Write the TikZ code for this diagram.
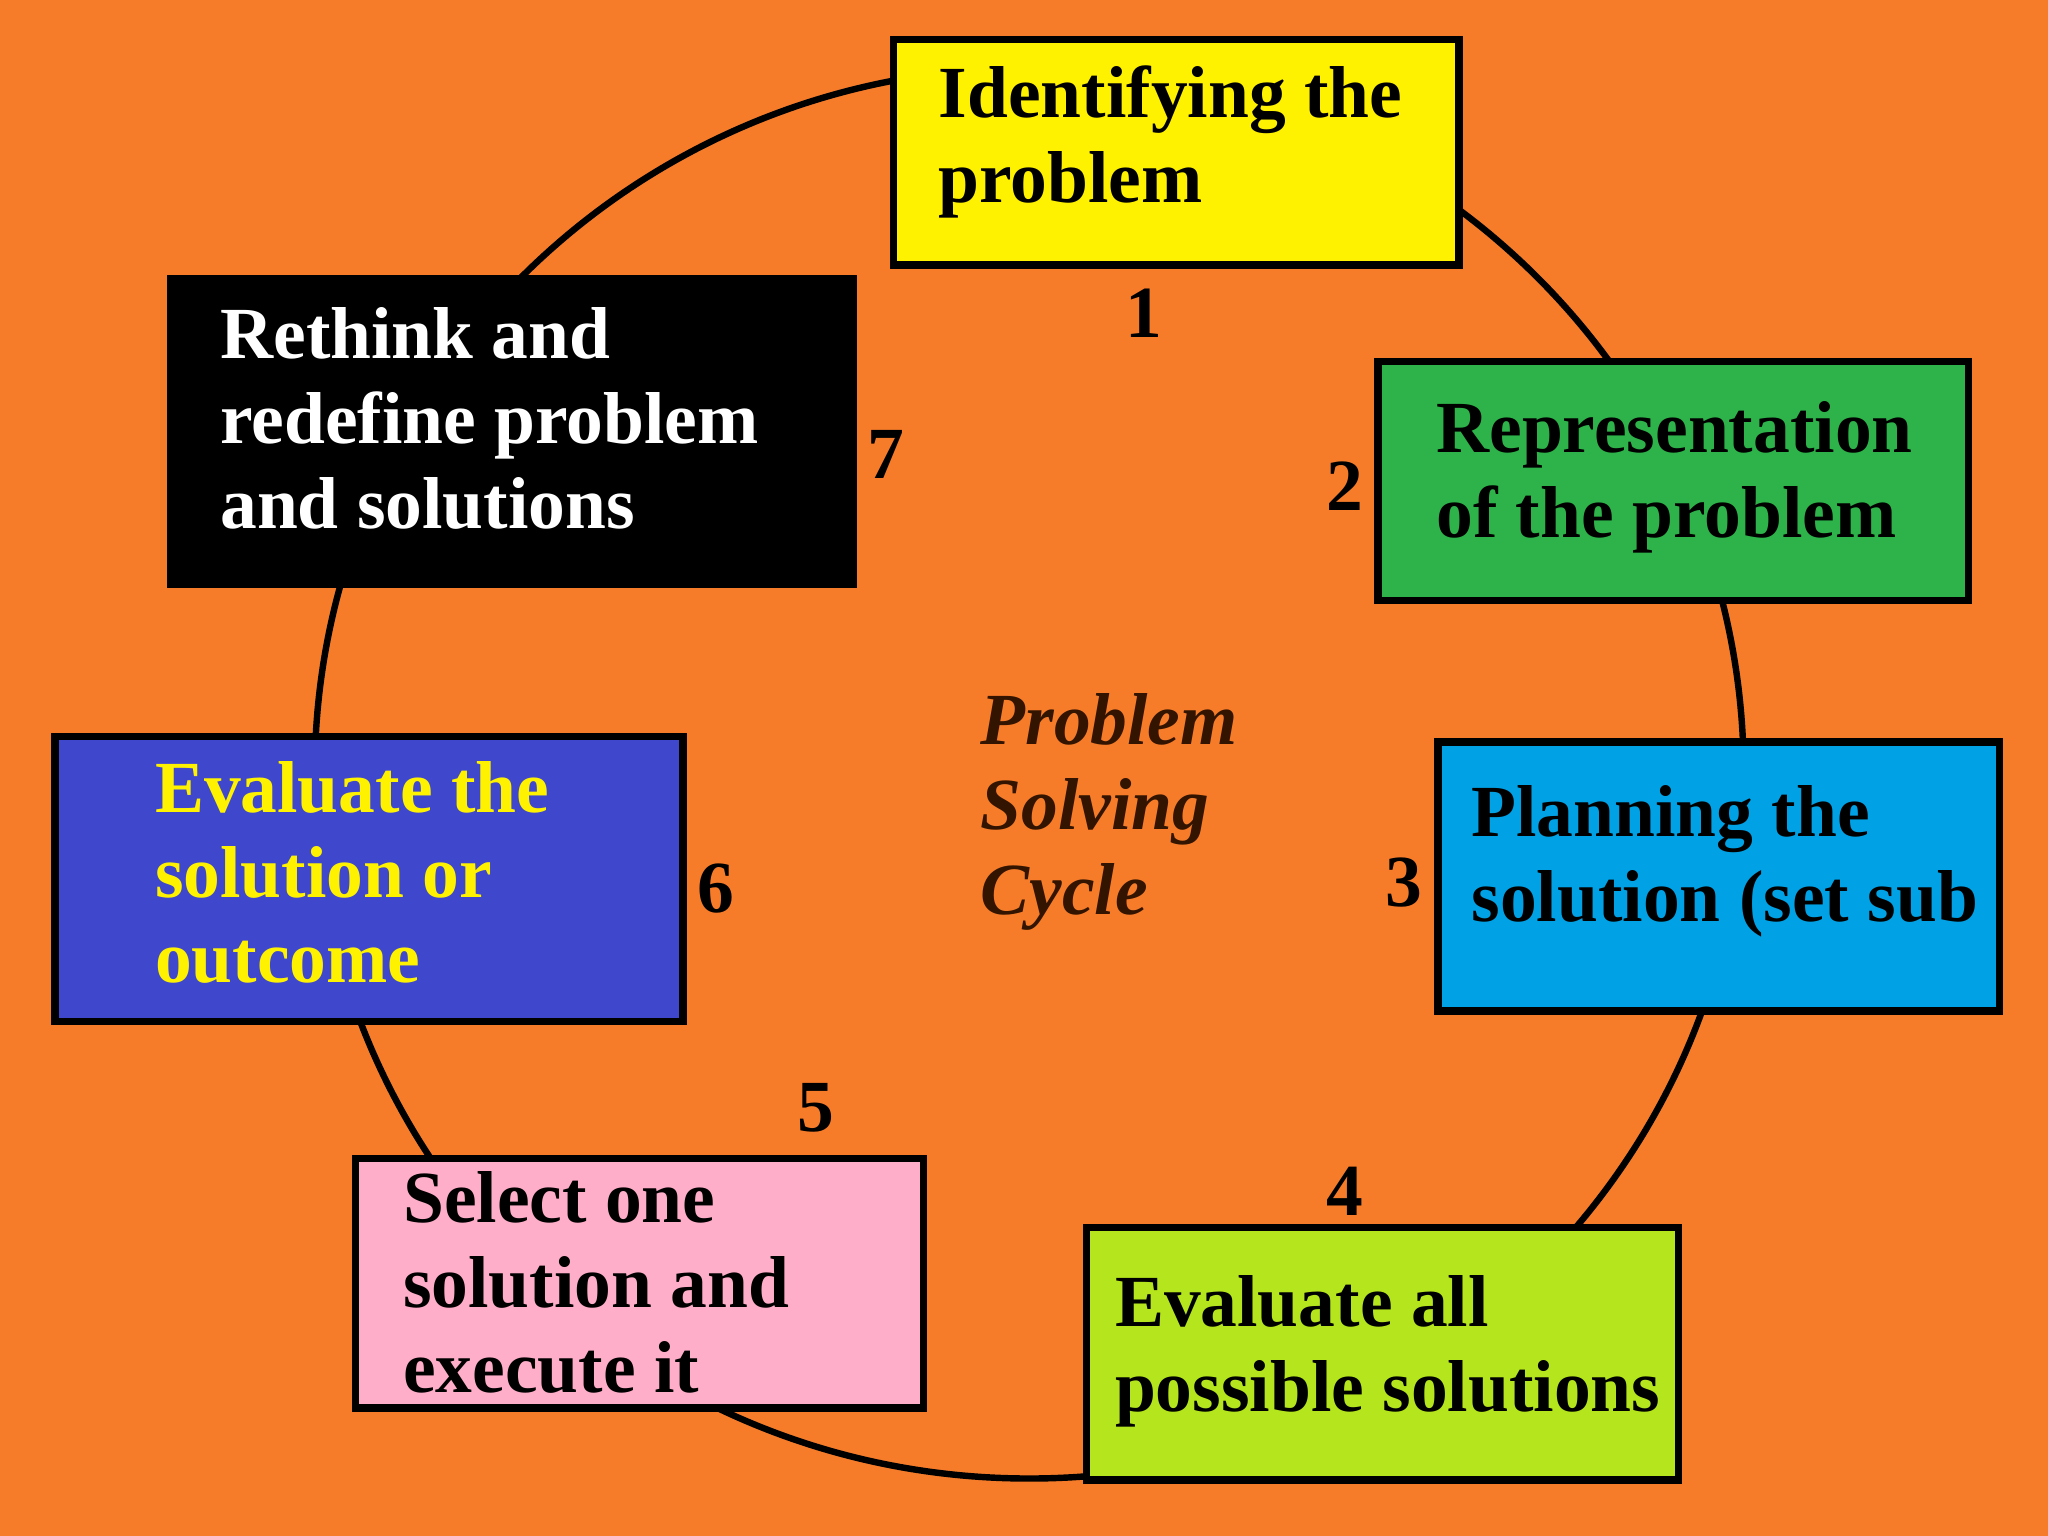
\documentclass[tikz,border=0pt]{standalone}
\usepackage{fontspec}
\setmainfont{Liberation Serif}
\begin{document}
\begin{tikzpicture}[x=0.01cm,y=-0.01cm,
  box/.style={draw=black,line width=1.6pt},
  txt/.style={anchor=north west,align=left,font=\fontsize{16}{18.5}\selectfont\bfseries,inner sep=0pt},
  num/.style={font=\fontsize{16}{18}\selectfont\bfseries}]
\fill[orange!90!red!85!yellow, fill={rgb,255:red,246;green,124;blue,42}] (0,0) rectangle (1568,1176);
\useasboundingbox (0,0) rectangle (1568,1176);
\draw[line width=1.4pt] (788,592) ellipse (547 and 540);
\draw[box,fill={rgb,255:red,255;green,242;blue,0}] (684,30) rectangle (1117,203);
\node[txt] (t1) at (718,50) {Identifying the\\problem};
\draw[box,fill={rgb,255:red,45;green,179;blue,74}] (1055,277) rectangle (1507,460);
\node[txt] (t2) at (1099,307) {Representation\\of the problem};
\draw[box,fill={rgb,255:red,0;green,162;blue,229}] (1101,568) rectangle (1531,774);
\node[txt] (t3) at (1126,601) {Planning the\\solution (set sub};
\draw[box,fill={rgb,255:red,181;green,230;blue,29}] (832,940) rectangle (1285,1133);
\node[txt] (t4) at (853,976) {Evaluate all\\possible solutions};
\draw[box,fill={rgb,255:red,255;green,174;blue,201}] (272,887) rectangle (707,1078);
\node[txt] (t5) at (308,896) {Select one\\solution and\\execute it};
\draw[box,fill={rgb,255:red,63;green,72;blue,204}] (42,564) rectangle (523,782);
\node[txt,text={rgb,255:red,255;green,242;blue,0}] (t6) at (118,582) {Evaluate the\\solution or\\outcome};
\draw[box,fill=black] (131,213) rectangle (653,447);
\node[txt,text=white] (t7) at (168,235) {Rethink and\\redefine problem\\and solutions};
\node[num] (n1) at (876,240) {1};
\node[num] (n2) at (1030,372) {2};
\node[num] (n3) at (1075,676) {3};
\node[num] (n4) at (1030,912) {4};
\node[num] (n5) at (625,848) {5};
\node[num] (n6) at (548,680) {6};
\node[num] (n7) at (678,348) {7};
\node[txt,font=\fontsize{16}{18.5}\selectfont\bfseries\itshape,text={rgb,255:red,50;green,20;blue,0}] (c) at (750,530) {Problem\\Solving\\Cycle};
\end{tikzpicture}
\end{document}
